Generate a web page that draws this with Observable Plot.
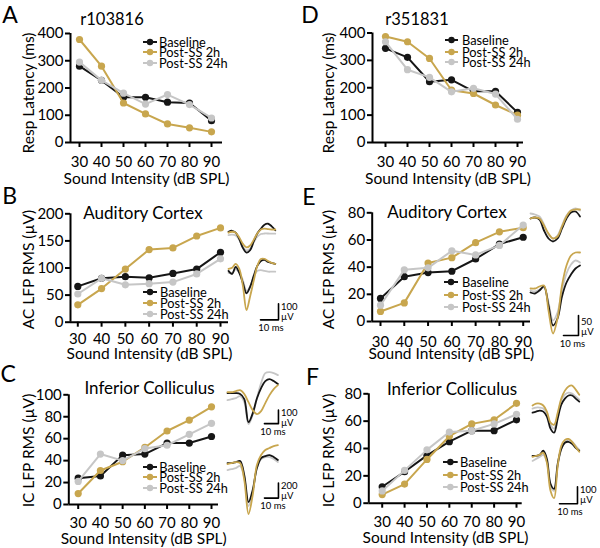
<!DOCTYPE html>
<html><head><meta charset="utf-8">
<script src="https://cdn.jsdelivr.net/npm/d3@7"></script>
<script src="https://cdn.jsdelivr.net/npm/@observablehq/plot@0.6"></script>
<style>
body{margin:0;background:#fff;}
#fig{position:relative;width:600px;height:548px;overflow:hidden;font-family:Lato,sans-serif;color:#000;}
#fig svg{position:absolute;overflow:visible;background:transparent;}
.t{position:absolute;white-space:nowrap;line-height:1;}
</style></head><body><div id="fig"></div>
<script>
// ---------- data ----------
const intensity = [30, 40, 50, 60, 70, 80, 90];
const seriesNames = ["Baseline", "Post-SS 2h", "Post-SS 24h"];
const seriesColors = ["#161616", "#c8a64e", "#c6c6c6"];
const xTitle = "Sound Intensity (dB SPL)";

// A: r103816 response latency (ms)
const latA_base = [280, 228, 166, 166, 148, 145, 80];
const latA_2h   = [378, 280, 145, 105, 68, 54, 39];
const latA_24h  = [295, 228, 181, 141, 176, 139, 90];
// D: r351831 response latency (ms)
const latD_base = [344, 311, 222, 229, 187, 187, 110];
const latD_2h   = [387, 368, 307, 191, 179, 137, 100];
const latD_24h  = [368, 266, 238, 185, 198, 177, 85];
// B: AC LFP RMS (uV), r103816
const acB_base = [66, 81, 84, 82, 90, 98, 129];
const acB_2h   = [32, 62, 98, 134, 137, 159, 174];
const acB_24h  = [52, 81, 69, 71, 74, 89, 117];
// E: AC LFP RMS (uV), r351831
const acE_base = [17, 33, 36, 37, 46, 57, 62];
const acE_2h   = [7.4, 13.7, 43, 47, 58, 66, 69];
const acE_24h  = [12, 38, 39.5, 52, 49, 56, 71];
// C: IC LFP RMS (uV), r103816
const icC_base = [24, 26, 45, 46, 56, 56, 62];
const icC_2h   = [10, 31, 39, 52, 67, 77, 89];
const icC_24h  = [21, 46, 40, 51, 54, 64, 74];
// F: IC LFP RMS (uV), r351831
const icF_base = [12, 23, 35, 45, 53, 53, 61];
const icF_2h   = [6.3, 14, 32, 49, 58, 61, 73];
const icF_24h  = [9, 24, 39, 52, 53, 58, 65];

const ticksLat = [0, 100, 200, 300, 400];
const ticksAC_B = [0, 50, 100, 150, 200];
const ticksIC_C = [0, 20, 40, 60, 80, 100];
const ticks80 = [0, 20, 40, 60, 80];

// waveform insets (time in ms, amplitude in uV)
const tB = [0, 2, 4, 6, 8, 10, 12, 14, 16, 18, 20, 22, 24, 26];
const wBtop_base = [6, 12, 0, -40, -95, -125, -110, -55, -5, 25, 50, 56, 40, 15];
const wBtop_2h   = [0, 6, 0, -30, -70, -92, -80, -45, -5, 20, 25, 22, 20, 20];
const wBtop_24h  = [-15, -12, -18, -45, -90, -110, -100, -60, -25, -8, -5, -5, -6, -6];
const wBbot_base = [0, -19, 25, -12, -75, -140, -100, -31, 31, 62, 69, 56, 50, 44];
const wBbot_2h   = [12, 19, 44, 12, -94, -245, -160, -62, 31, 75, 75, 62, 50, 44];
const wBbot_24h  = [-12, -12, 10, -10, -60, -125, -100, -40, 0, 5, 0, -5, -5, -5];

const tE = [0, 3, 6, 9, 12, 15, 18, 21, 24, 27, 30, 33];
const wEtop_base = [0, 2.5, -2.5, -30, -50, -57.5, -50, -25, 0, 15, 17.5, 5];
const wEtop_2h   = [0, 2.5, 0, -17.5, -37.5, -50, -45, -20, 5, 20, 22.5, 22.5];
const wEtop_24h  = [12.5, 10, 5, -15, -40, -50, -42.5, -17.5, 7.5, 20, 25, 20];
const wEbot_base = [-5, -7.5, 0, 10, -37.5, -87.5, -70, -15, 20, 40, 55, 62.5];
const wEbot_2h   = [5, 5, 10, 12.5, -50, -107.5, -70, 12.5, 62.5, 87.5, 95, 95];
const wEbot_24h  = [0, -2.5, 2.5, 7.5, -30, -75, -55, 0, 42.5, 65, 75, 70];

const tC = [0, 3, 6, 9, 12, 15, 18, 21, 24, 27, 30, 33, 36];
const wCtop_base = [0, 0, 0, -7, -44, -215, -150, -40, 37, 89, 104, 89, 67];
const wCtop_2h   = [7, 7, 15, 22, -7, -67, -126, -155, -133, -74, -15, 30, 59];
const wCtop_24h  = [-52, -44, -37, -22, -67, -229, -160, -37, 74, 148, 155, 148, 133];
const wCbot_base = [0, 0, 13, 27, -160, -519, -359, -67, 67, 93, 106, 80, 40];
const wCbot_2h   = [-13, 0, 13, 0, -226, -678, -426, -27, 106, 173, 200, 226, 239];
const wCbot_24h  = [-93, -80, -67, -40, -200, -572, -386, -67, 53, 80, 80, 53, 13];

const tF = [0, 2, 4, 6, 8, 10, 12, 14, 16, 18, 20, 22, 24, 26];
const wFtop_base = [-12, -6, 0, -6, -35, -106, -130, -47, 35, 71, 89, 89, 71, 53];
const wFtop_2h   = [30, 41, 41, 30, -6, -71, -83, -12, 71, 118, 142, 148, 124, 94];
const wFtop_24h  = [12, 18, 18, 12, -18, -83, -106, -24, 59, 94, 106, 100, 83, 65];
const wFbot_base = [0, 0, 6, 30, -18, -165, -195, -47, 41, 77, 83, 71, 47, 30];
const wFbot_2h   = [-6, 0, 6, 18, -41, -206, -250, -59, 59, 94, 100, 83, 53, 24];
const wFbot_24h  = [-30, -18, -6, 6, -35, -177, -206, -59, 41, 83, 94, 83, 59, 35];

// ---------- layout ----------
const FONT = "Lato, 'Open Sans', sans-serif";
const fig = document.getElementById("fig");

function addText(txt, x, y, size, opts = {}) {
  const d = document.createElement("div");
  d.className = "t";
  d.textContent = txt;
  d.style.left = x + "px";
  d.style.top = y + "px";
  d.style.fontSize = size + "px";
  if (opts.lh) d.style.lineHeight = opts.lh;
  d.style.transform = `translate(${opts.anchor === "start" ? "0" : "-50%"}, -50%)`;
  fig.appendChild(d);
}

function place(svg, left, top) {
  svg.style.left = left + "px";
  svg.style.top = top + "px";
  fig.appendChild(svg);
}

const panels = [
  {letter: "A", title: "r103816", values: [latA_base, latA_2h, latA_24h], yticks: ticksLat, ymax: 400,
   ylabel: "Resp Latency (ms)", svgLeft: 0, svgTop: 0, H: 190,
   frame: {l: 70, r: 222, t: 33, b: 142}, x30: 79, x90: 211, xTickY: 161, xLabY: 178.5, yLab: [28.3, 92.5],
   letterPos: [10, 13.5], titlePos: [112, 18.5], titleSize: 16.5,
   legend: {rows: [42.3, 52.3, 62.7], lx: [143, 157], tx: 159}},
  {letter: "D", title: "r351831", values: [latD_base, latD_2h, latD_24h], yticks: ticksLat, ymax: 400,
   ylabel: "Resp Latency (ms)", svgLeft: 300, svgTop: 0, H: 190,
   frame: {l: 372, r: 523, t: 32.5, b: 142}, x30: 385, x90: 517, xTickY: 161, xLabY: 178.5, yLab: [328.3, 92.5],
   letterPos: [310, 13.5], titlePos: [417, 19], titleSize: 16.5,
   legend: {rows: [40, 51.7, 62.3], lx: [445, 458], tx: 462}},
  {letter: "B", title: "Auditory Cortex", values: [acB_base, acB_2h, acB_24h], yticks: ticksAC_B, ymax: 200,
   ylabel: "AC LFP RMS (µV)", svgLeft: 0, svgTop: 180, H: 190,
   frame: {l: 70, r: 228, t: 213.3, b: 321.7}, x30: 77.3, x90: 220, xTickY: 338.5, xLabY: 354, yLab: [28.3, 269],
   letterPos: [9.7, 195], titlePos: [143, 211.5], titleSize: 17,
   legend: {rows: [291.7, 302.7, 314], lx: [143, 157], tx: 160}},
  {letter: "E", title: "Auditory Cortex", values: [acE_base, acE_2h, acE_24h], yticks: ticks80, ymax: 80,
   ylabel: "AC LFP RMS (µV)", svgLeft: 300, svgTop: 180, H: 190,
   frame: {l: 371.7, r: 530, t: 212.3, b: 321}, x30: 380, x90: 522.7, xTickY: 341, xLabY: 354, yLab: [328.3, 269],
   letterPos: [309, 195.5], titlePos: [447, 211], titleSize: 17,
   legend: {rows: [282.3, 295, 306.7], lx: [444, 458], tx: 462}},
  {letter: "C", title: "Inferior Colliculus", values: [icC_base, icC_2h, icC_24h], yticks: ticksIC_C, ymax: 100,
   ylabel: "IC LFP RMS (µV)", svgLeft: 0, svgTop: 360, H: 188,
   frame: {l: 68.3, r: 218, t: 394.3, b: 504}, x30: 77.7, x90: 211, xTickY: 522.5, xLabY: 538.5, yLab: [28.3, 450],
   letterPos: [8.3, 373.3], titlePos: [149.5, 386.7], titleSize: 17,
   legend: {rows: [466.7, 477.3, 488.3], lx: [142.7, 156.7], tx: 159.3}},
  {letter: "F", title: "Inferior Colliculus", values: [icF_base, icF_2h, icF_24h], yticks: ticks80, ymax: 80,
   ylabel: "IC LFP RMS (µV)", svgLeft: 300, svgTop: 360, H: 188,
   frame: {l: 368.3, r: 521.7, t: 393.3, b: 502.7}, x30: 381.7, x90: 516, xTickY: 521, xLabY: 538, yLab: [328.3, 450],
   letterPos: [312.5, 376], titlePos: [452, 387.5], titleSize: 17,
   legend: {rows: [461.7, 475, 486.7], lx: [443, 457.7], tx: 460}}
];

const TICK_FS = 15;

panels.forEach(p => {
  const W = 300, H = p.H, f = p.frame;
  const mL = f.l - p.svgLeft, mR = p.svgLeft + W - f.r;
  const mT = f.t - p.svgTop, mB = p.svgTop + H - f.b;
  const k = (p.x90 - p.x30) / 60;
  const xDom = [30 - (p.x30 - f.l) / k, 90 + (f.r - p.x90) / k];
  const marks = [
    Plot.axisX({ticks: intensity, tickSize: 5, tickPadding: p.xTickY - f.b - 5 - TICK_FS * 0.36,
                strokeWidth: 2, label: null, fontSize: TICK_FS, tickFormat: d => String(d)}),
    Plot.axisY({ticks: p.yticks, tickSize: 5, tickPadding: 2, strokeWidth: 2, label: null,
                fontSize: TICK_FS, tickFormat: d => String(d)}),
    Plot.ruleY([0], {strokeWidth: 2, stroke: "#000"}),
    Plot.ruleX([xDom[0]], {strokeWidth: 2, stroke: "#000"})
  ];
  seriesNames.forEach((s, i) => {
    const data = intensity.map((x, j) => ({x, y: p.values[i][j]}));
    marks.push(Plot.line(data, {x: "x", y: "y", stroke: seriesColors[i], strokeWidth: 2}));
    marks.push(Plot.dot(data, {x: "x", y: "y", fill: seriesColors[i], r: 3.6}));
  });
  marks.push(Plot.text([xTitle], {text: d => d, frameAnchor: "bottom", lineAnchor: "middle",
    dy: p.xLabY - f.b, dx: 0, fontSize: 15.5}));
  marks.push(Plot.text([p.ylabel], {text: d => d, frameAnchor: "left", rotate: -90, lineAnchor: "middle",
    textAnchor: "middle", dx: p.yLab[0] - f.l, dy: p.yLab[1] - (f.t + f.b) / 2, fontSize: 15.5}));
  const svg = Plot.plot({
    width: W, height: H, marginLeft: mL, marginRight: mR, marginTop: mT, marginBottom: mB,
    style: `font-family:${FONT};font-size:15px;background:transparent;overflow:visible;color:#000;`,
    x: {domain: xDom}, y: {domain: [0, p.ymax]},
    marks
  });
  place(svg, p.svgLeft, p.svgTop);

  addText(p.letter, p.letterPos[0], p.letterPos[1], 23);
  addText(p.title, p.titlePos[0], p.titlePos[1], p.titleSize);

  // legend
  const lg = p.legend;
  seriesNames.forEach((s, i) => {
    const yy = lg.rows[i];
    const ns = "http://www.w3.org/2000/svg";
    const sv = document.createElementNS(ns, "svg");
    sv.setAttribute("width", 30); sv.setAttribute("height", 10);
    sv.style.left = (lg.lx[0] - 5) + "px"; sv.style.top = (yy - 5) + "px";
    const ln = document.createElementNS(ns, "line");
    ln.setAttribute("x1", 5); ln.setAttribute("x2", 5 + lg.lx[1] - lg.lx[0]);
    ln.setAttribute("y1", 5); ln.setAttribute("y2", 5);
    ln.setAttribute("stroke", seriesColors[i]); ln.setAttribute("stroke-width", 2);
    const c = document.createElementNS(ns, "circle");
    c.setAttribute("cx", 5 + (lg.lx[1] - lg.lx[0]) / 2); c.setAttribute("cy", 5); c.setAttribute("r", 3.2);
    c.setAttribute("fill", seriesColors[i]);
    sv.appendChild(ln); sv.appendChild(c);
    fig.appendChild(sv);
    addText(s, lg.tx, yy, 12.8, {anchor: "start", lh: "0.8"});
  });
});

// insets
const insets = [
  {times: tB, traces: [wBtop_base, wBtop_2h, wBtop_24h], x0: 228, y0: 232, pxMs: 1.8, uvPx: 6.25, tDom: [0, 28], vDom: [-140, 70]},
  {times: tB, traces: [wBbot_base, wBbot_2h, wBbot_24h], x0: 228, y0: 270, pxMs: 1.8, uvPx: 6.25, tDom: [0, 28], vDom: [-320, 90],
   bar: {t: 27.8, v: -306, uv: 100, label: "100"}},
  {times: tE, traces: [wEtop_base, wEtop_2h, wEtop_24h], x0: 530, y0: 218, pxMs: 1.5, uvPx: 2.5, tDom: [0, 33], vDom: [-65, 30]},
  {times: tE, traces: [wEbot_base, wEbot_2h, wEbot_24h], x0: 530, y0: 290, pxMs: 1.5, uvPx: 2.5, tDom: [0, 33], vDom: [-115, 100],
   bar: {t: 32, v: -112.5, uv: 50, label: "50", labDy: 3}},
  {times: tC, traces: [wCtop_base, wCtop_2h, wCtop_24h], x0: 227, y0: 393, pxMs: 1.4, uvPx: 7.4, tDom: [0, 37], vDom: [-235, 160],
   bar: {t: 36.4, v: -226, uv: 100, label: "100"}},
  {times: tC, traces: [wCbot_base, wCbot_2h, wCbot_24h], x0: 227, y0: 463, pxMs: 1.4, uvPx: 13.3, tDom: [0, 37], vDom: [-700, 260],
   bar: {t: 36.4, v: -466, uv: 200, label: "200"}},
  {times: tF, traces: [wFtop_base, wFtop_2h, wFtop_24h], x0: 532, y0: 410, pxMs: 1.8, uvPx: 5.9, tDom: [0, 26.5], vDom: [-140, 160]},
  {times: tF, traces: [wFbot_base, wFbot_2h, wFbot_24h], x0: 532, y0: 455, pxMs: 1.8, uvPx: 5.9, tDom: [0, 26.5], vDom: [-290, 120],
   bar: {t: 25, v: -283, uv: 100, label: "100"}}
];
const drawOrder = [2, 0, 1];

insets.forEach(ins => {
  const W = (ins.tDom[1] - ins.tDom[0]) * ins.pxMs;
  const H = (ins.vDom[1] - ins.vDom[0]) / ins.uvPx;
  const left = ins.x0 + ins.tDom[0] * ins.pxMs;
  const top = ins.y0 - ins.vDom[1] / ins.uvPx;
  const marks = drawOrder.map(i => Plot.line(ins.times.map((t, j) => ({t, v: ins.traces[i][j]})),
    {x: "t", y: "v", stroke: seriesColors[i], strokeWidth: 1.8, curve: "catmull-rom"}));
  if (ins.bar) {
    const b = ins.bar;
    marks.push(Plot.line([[b.t - 10, b.v], [b.t, b.v], [b.t, b.v + b.uv]], {x: d => d[0], y: d => d[1], stroke: "#000", strokeWidth: 1.6}));
    marks.push(Plot.text([{t: b.t, v: b.v + b.uv, s: b.label}], {x: "t", y: "v", text: "s", dx: 2.5, dy: (b.labDy || 0) - 0.5,
      textAnchor: "start", lineAnchor: "top", fontSize: 9.5}));
    marks.push(Plot.text([{t: b.t, v: b.v + b.uv, s: "µV"}], {x: "t", y: "v", text: "s", dx: 2.5, dy: (b.labDy || 0) + 9.5,
      textAnchor: "start", lineAnchor: "top", fontSize: 9.5}));
    marks.push(Plot.text([{t: b.t - 5, v: b.v, s: "10 ms"}], {x: "t", y: "v", text: "s", dx: 1.5, dy: 4.5,
      textAnchor: "middle", lineAnchor: "top", fontSize: 9.5}));
  }
  const svg = Plot.plot({
    width: W, height: H, margin: 0,
    style: `font-family:${FONT};background:transparent;overflow:visible;color:#000;`,
    x: {domain: ins.tDom, axis: null}, y: {domain: ins.vDom, axis: null},
    marks
  });
  place(svg, left, top);
});
</script></body></html>
